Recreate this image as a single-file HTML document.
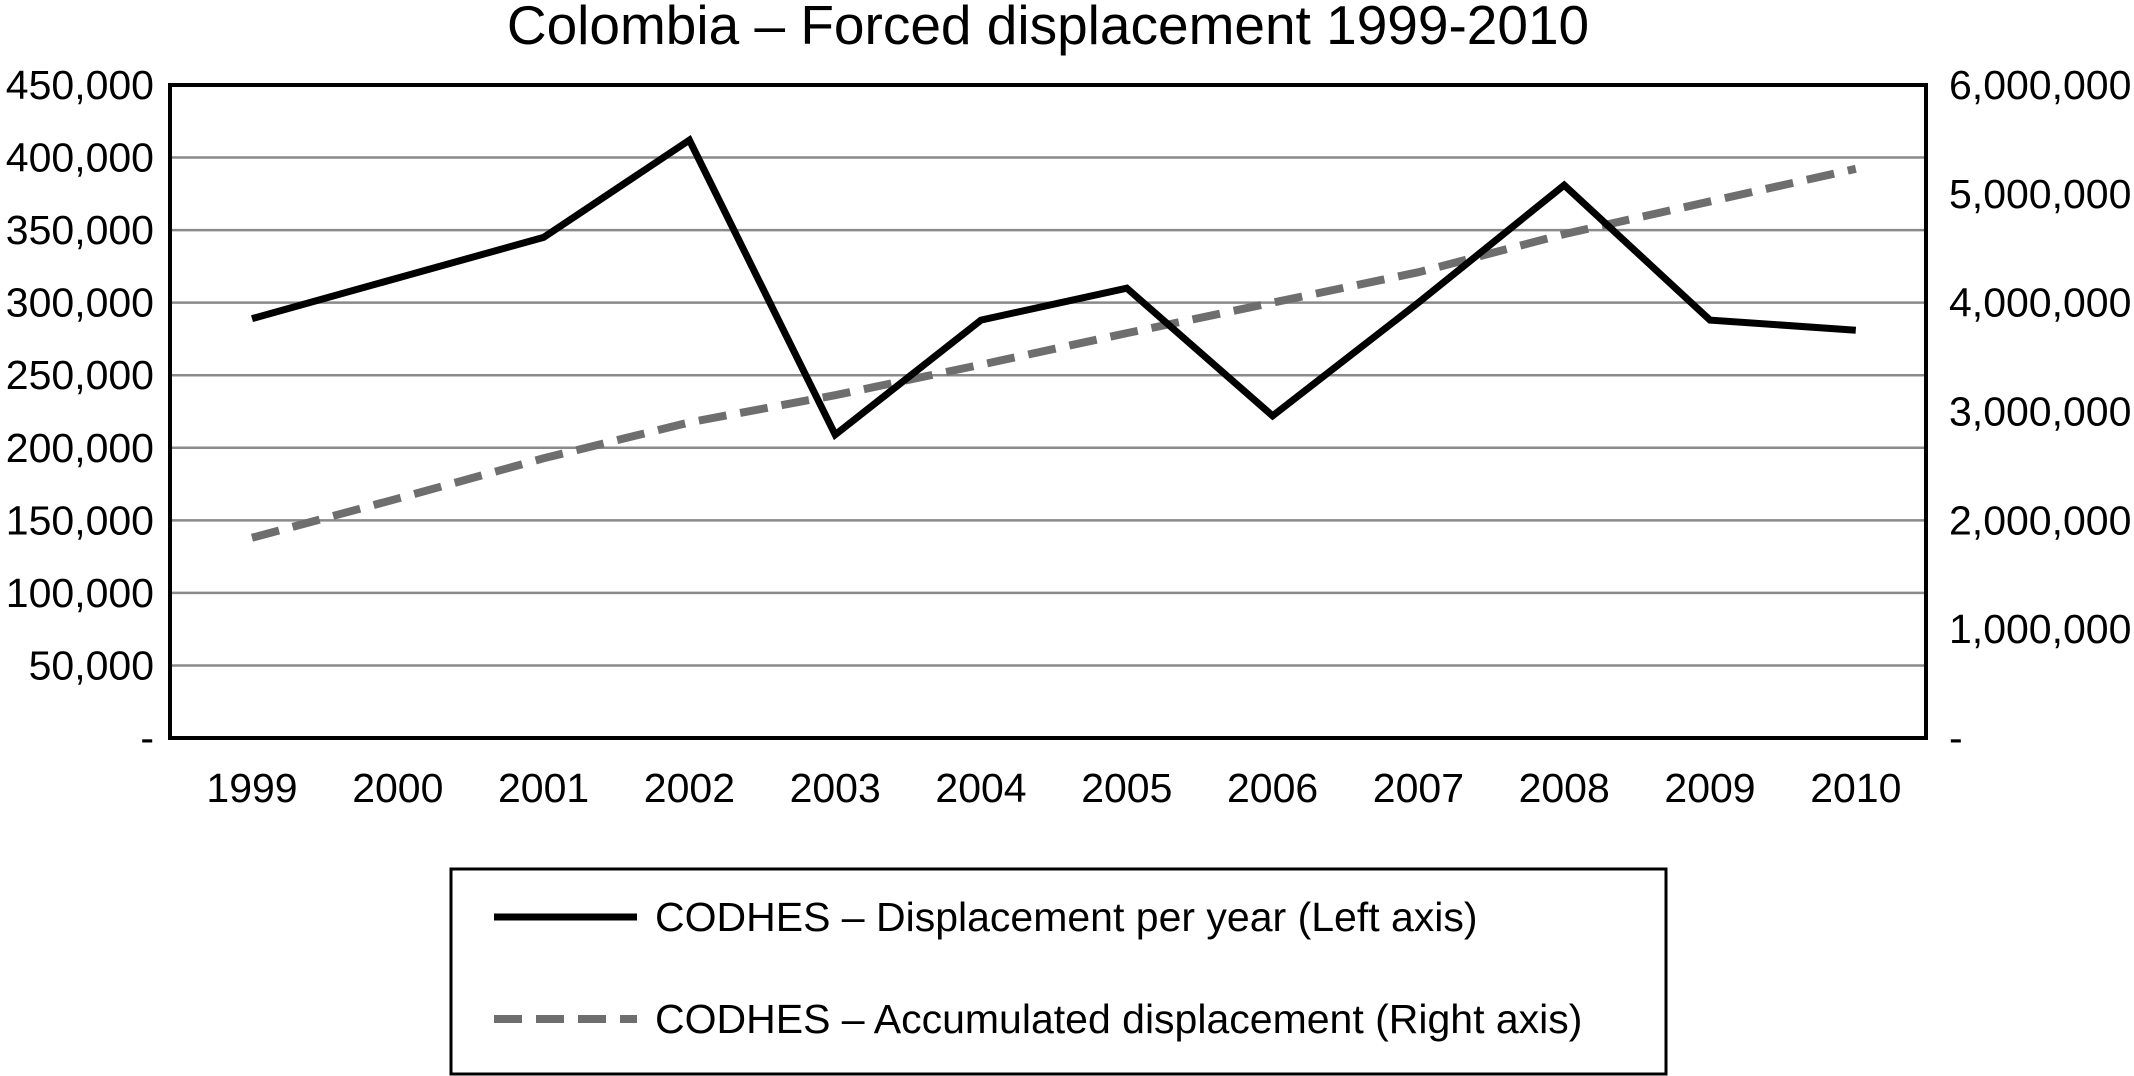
<!DOCTYPE html>
<html><head><meta charset="utf-8"><style>
html,body{margin:0;padding:0;background:#fff;}
svg{display:block;font-family:"Liberation Sans",sans-serif;}
</style></head><body>
<svg id="chart" width="2134" height="1076" viewBox="0 0 2134 1076">
<text x="1048" y="44" font-size="55" text-anchor="middle">Colombia – Forced displacement 1999-2010</text>
<g id="grid"></g>
<g id="lines"></g>
<rect x="170" y="85" width="1756" height="653" fill="none" stroke="#000" stroke-width="4"/>
<g id="ticks" font-size="41"></g>
<g>
<rect x="451" y="869" width="1215" height="205" fill="#fff" stroke="#000" stroke-width="3"/>
<line x1="494" y1="917" x2="637" y2="917" stroke="#000" stroke-width="7"/>
<text x="655" y="931" font-size="41">CODHES – Displacement per year (Left axis)</text>
<line x1="494" y1="1019" x2="637" y2="1019" stroke="#6e6e6e" stroke-width="8" stroke-dasharray="28,14"/>
<text x="655" y="1033" font-size="41">CODHES – Accumulated displacement (Right axis)</text>
</g>
</svg>
<script>
const years = ["1999","2000","2001","2002","2003","2004","2005","2006","2007","2008","2009","2010"];
const annual = [289000,317000,345000,412000,209000,288000,310000,222000,300000,381000,288000,281000];
const accumulated = [1840000,2200000,2570000,2900000,3150000,3430000,3720000,4000000,4280000,4630000,4930000,5230000];
const leftTicks = ["-","50,000","100,000","150,000","200,000","250,000","300,000","350,000","400,000","450,000"];
const rightTicks = ["-","1,000,000","2,000,000","3,000,000","4,000,000","5,000,000","6,000,000"];
const leftMax = 450000, rightMax = 6000000;
const L=170,R=1926,T=85,B=738;
const X0=252, DX=145.8;
const NS="http://www.w3.org/2000/svg";
const xs=i=>X0+DX*i;
const yL=v=>B-(B-T)*v/leftMax;
const yR=v=>B-(B-T)*v/rightMax;
function mk(tag,attrs,parent){const e=document.createElementNS(NS,tag);for(const k in attrs)e.setAttribute(k,attrs[k]);parent.appendChild(e);return e;}
const grid=document.getElementById('grid'),ticks=document.getElementById('ticks'),lines=document.getElementById('lines');
leftTicks.forEach((t,i)=>{
  const y=yL(i*leftMax/(leftTicks.length-1));
  if(i>0&&i<leftTicks.length-1){
    const g=mk('line',{x1:L,x2:R,y1:y,y2:y,stroke:'#8a8a8a','stroke-width':2.5},grid);
    
    
  }
  const tx=mk('text',{x:154,y:y+14,'text-anchor':'end'},ticks);tx.textContent=t;
  
  
});
rightTicks.forEach((t,i)=>{
  const y=yR(i*rightMax/(rightTicks.length-1));
  const tx=mk('text',{x:1949,y:y+14,'text-anchor':'start'},ticks);tx.textContent=t;
  
  
});
years.forEach((yr,i)=>{
  const tx=mk('text',{x:xs(i),y:802,'text-anchor':'middle'},ticks);tx.textContent=yr;
  
  
});
const p2=mk('polyline',{points:accumulated.map((v,i)=>xs(i)+','+yR(v)).join(' '),fill:'none',stroke:'#6e6e6e','stroke-width':8,'stroke-dasharray':'28,14'},lines);


const p1=mk('polyline',{points:annual.map((v,i)=>xs(i)+','+yL(v)).join(' '),fill:'none',stroke:'#000','stroke-width':7,'stroke-linejoin':'miter'},lines);


</script>
</body></html>
